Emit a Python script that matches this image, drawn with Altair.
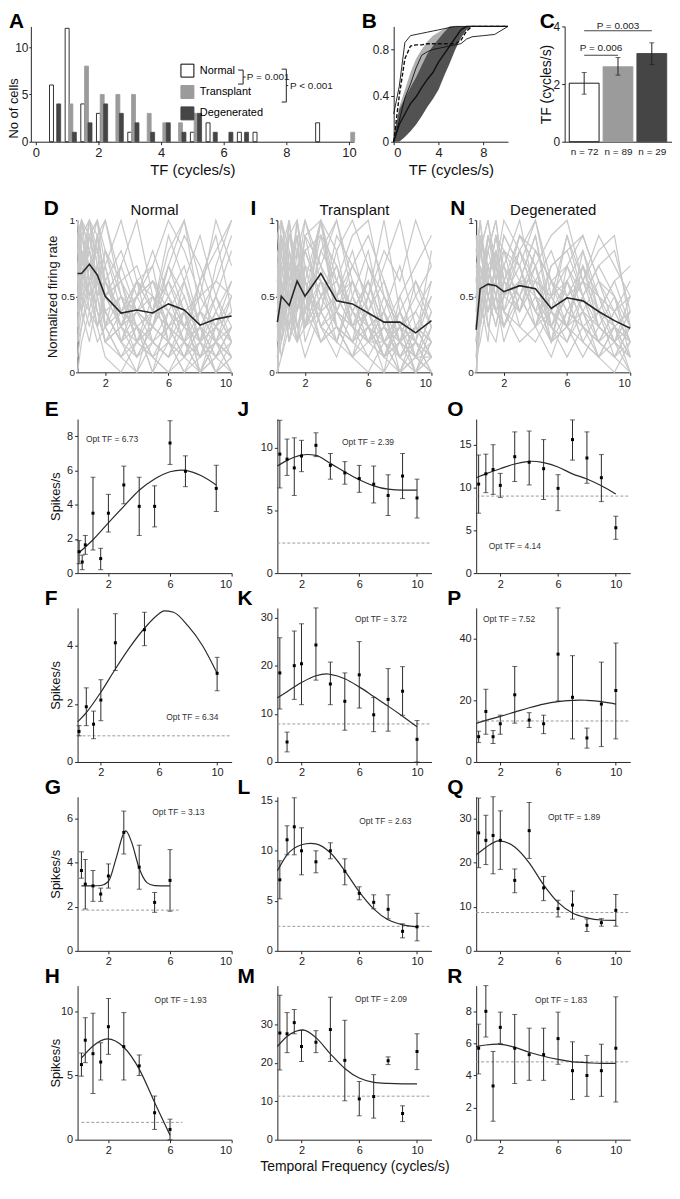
import altair as alt
import pandas as pd

FONT = "Liberation Sans"
INK = "#262626"
GREY_LINE = "#c8c8c8"

# ---------------- Panel A: histogram of optimal TF ----------------
A_groups = ["Normal", "Transplant", "Degenerated"]
A_bins = [0.5, 1, 1.5, 2, 2.5, 3, 3.5, 4, 4.5, 5, 5.5, 6, 6.5, 7, 7.5, 8, 8.5, 9, 9.5, 10]
A_normal = [6, 12, 4, 3, 0, 1, 0, 0, 0, 1, 2, 0, 1, 1, 0, 0, 0, 2, 0, 0]
A_transplant = [0, 4, 8, 5, 5, 5, 3, 2, 2, 3, 0, 0, 0, 0, 0, 0, 0, 0, 0, 1]
A_degenerated = [4, 1, 2, 4, 3, 2, 1, 2, 1, 3, 1, 1, 1, 0, 0, 0, 0, 0, 0, 0]
A_fill = ["white", "#9b9b9b", "#454545"]
A_stroke = ["black", "#9b9b9b", "#454545"]

# ---------------- Panel B: cumulative distributions ----------------
B_x = [0, 0.5, 1, 1.5, 2, 2.5, 3, 3.5, 4, 4.5, 5, 5.5, 6, 6.5, 7, 8, 9, 10.2]
B_norm_up = [0.24, 0.48, 0.86, 0.92, 0.93, 0.94, 0.95, 0.96, 0.97, 0.98, 0.99, 1.0, 1.0, 1.0, 1.0, 1.0, 1.0, 1.0]
B_norm_lo = [0.0, 0.18, 0.38, 0.5, 0.64, 0.75, 0.78, 0.8, 0.81, 0.82, 0.83, 0.84, 0.85, 0.89, 0.91, 0.92, 0.93, 1.0]
B_norm_mean = [0.0, 0.4, 0.72, 0.83, 0.84, 0.84, 0.85, 0.85, 0.85, 0.85, 0.85, 0.85, 0.88, 0.96, 1.0, 1.0, 1.0, 1.0]
B_tr_up = [0.05, 0.3, 0.45, 0.6, 0.72, 0.8, 0.87, 0.92, 0.95, 0.98, 1.0, 1.0, 1.0, 1.0, 1.0, 1.0, 1.0, 1.0]
B_tr_lo = [0.0, 0.05, 0.15, 0.25, 0.35, 0.45, 0.55, 0.63, 0.72, 0.8, 0.88, 0.93, 0.97, 1.0, 1.0, 1.0, 1.0, 1.0]
B_dg_up = [0.04, 0.28, 0.38, 0.47, 0.56, 0.66, 0.76, 0.83, 0.89, 0.95, 1.0, 1.0, 1.0, 1.0, 1.0, 1.0, 1.0, 1.0]
B_dg_lo = [0.0, 0.0, 0.04, 0.09, 0.15, 0.22, 0.3, 0.37, 0.45, 0.57, 0.68, 0.8, 0.9, 0.97, 1.0, 1.0, 1.0, 1.0]
B_dg_mean = [0.0, 0.15, 0.24, 0.33, 0.39, 0.47, 0.54, 0.6, 0.69, 0.76, 0.83, 0.9, 0.97, 1.0, 1.0, 1.0, 1.0, 1.0]

# ---------------- Panel C: mean optimal TF ----------------
C_idx = [0, 1, 2]
C_labels = ["n = 72", "n = 89", "n = 29"]
C_mean = [2.03, 2.6, 3.06]
C_lo = [1.65, 2.31, 2.68]
C_hi = [2.4, 2.92, 3.43]
C_p_text = ["P = 0.003", "P = 0.006"]

# ---------------- Panels D / I / N: normalized tuning ----------------
TF = [0.25, 0.5, 1, 1.5, 2, 3, 4, 5, 6, 7, 8, 9, 10]
D_lines = [
    [0.9, 1.0, 0.8, 0.6, 0.4, 0.2, 0.1, 0.3, 0.2, 0.0, 0.1, 0.2, 0.1],
    [0.5, 0.7, 1.0, 0.9, 0.6, 0.3, 0.4, 0.2, 0.1, 0.2, 0.0, 0.1, 0.3],
    [1.0, 0.8, 0.7, 0.5, 0.3, 0.5, 0.2, 0.4, 0.6, 0.3, 0.2, 0.0, 0.1],
    [0.3, 0.6, 0.9, 1.0, 0.8, 0.4, 0.3, 0.1, 0.2, 0.4, 0.1, 0.2, 0.0],
    [0.7, 0.9, 1.0, 0.7, 0.5, 0.6, 0.7, 0.4, 0.3, 0.1, 0.0, 0.2, 0.4],
    [0.2, 0.3, 0.5, 0.6, 0.7, 1.0, 0.6, 0.5, 0.3, 0.2, 0.4, 0.3, 0.2],
    [0.0, 0.2, 0.4, 0.3, 0.5, 0.4, 0.6, 0.7, 1.0, 0.8, 0.5, 0.6, 0.9],
    [0.8, 0.6, 0.9, 1.0, 0.7, 0.3, 0.2, 0.3, 0.5, 0.7, 0.3, 0.1, 0.0],
    [0.6, 1.0, 0.6, 0.4, 0.2, 0.1, 0.3, 0.0, 0.2, 0.1, 0.3, 0.5, 0.2],
    [0.4, 0.5, 0.3, 0.6, 0.4, 0.2, 0.5, 0.3, 0.7, 1.0, 0.6, 0.2, 0.1],
    [0.9, 0.7, 0.8, 0.5, 0.6, 0.4, 0.5, 0.6, 0.4, 0.2, 0.1, 0.3, 0.5],
    [0.1, 0.3, 0.6, 0.4, 0.2, 0.3, 0.1, 0.2, 0.4, 0.3, 0.5, 1.0, 0.7],
    [1.0, 0.9, 0.6, 0.7, 0.4, 0.2, 0.3, 0.1, 0.0, 0.2, 0.3, 0.1, 0.2],
    [0.5, 0.4, 0.7, 0.8, 1.0, 0.5, 0.4, 0.3, 0.6, 0.4, 0.2, 0.1, 0.3],
    [0.7, 0.5, 0.4, 0.2, 0.3, 0.7, 1.0, 0.5, 0.3, 0.5, 0.2, 0.4, 0.6],
    [0.3, 0.8, 0.5, 0.9, 0.3, 0.1, 0.2, 0.5, 0.4, 0.6, 0.9, 0.5, 0.3],
    [0.8, 1.0, 0.9, 0.6, 0.5, 0.3, 0.6, 0.4, 0.7, 0.5, 0.2, 0.0, 0.1],
    [0.2, 0.4, 0.2, 0.5, 0.8, 0.6, 0.3, 0.2, 0.1, 0.3, 0.6, 0.8, 1.0],
    [0.6, 0.7, 0.9, 0.8, 0.6, 0.4, 0.3, 0.4, 0.9, 0.6, 0.2, 0.3, 0.4],
    [0.9, 0.6, 0.5, 0.3, 0.1, 0.0, 0.2, 0.1, 0.3, 0.2, 0.1, 0.4, 0.2],
    [0.4, 0.9, 1.0, 0.7, 0.4, 0.5, 0.2, 0.3, 0.2, 0.1, 0.4, 0.2, 0.5],
    [0.7, 0.4, 0.6, 0.9, 0.6, 0.3, 0.5, 0.8, 0.5, 0.3, 0.1, 0.2, 0.0],
    [0.6, 0.8, 0.7, 0.9, 1.0, 0.6, 0.2, 0.1, 0.0, 0.1, 0.3, 0.2, 0.1],
    [1.0, 0.7, 0.5, 0.6, 0.3, 0.4, 0.6, 0.2, 0.3, 0.4, 0.0, 0.3, 0.6],
    [0.4, 0.6, 0.8, 0.5, 0.7, 0.2, 0.0, 0.4, 0.6, 0.9, 0.7, 0.4, 0.2],
    [0.8, 0.9, 0.7, 0.4, 0.2, 0.3, 0.5, 0.6, 0.3, 0.1, 0.2, 0.7, 1.0],
    [0.5, 1.0, 0.8, 0.6, 0.5, 0.7, 0.4, 0.3, 0.5, 0.2, 0.0, 0.1, 0.3],
    [0.9, 0.5, 1.0, 0.8, 0.3, 0.1, 0.0, 0.2, 0.1, 0.4, 0.5, 0.3, 0.1],
    [0.3, 0.5, 0.6, 0.3, 0.6, 0.8, 0.5, 0.7, 0.2, 0.0, 0.2, 0.5, 0.8],
    [0.7, 0.8, 0.4, 0.7, 0.5, 0.3, 0.6, 0.4, 0.8, 1.0, 0.4, 0.2, 0.3],
    [0.6, 0.4, 0.9, 0.6, 0.8, 0.5, 0.3, 0.0, 0.4, 0.2, 0.6, 0.9, 0.4],
    [1.0, 0.8, 0.6, 0.3, 0.4, 0.2, 0.4, 0.5, 0.2, 0.6, 0.3, 0.0, 0.2],
    [0.2, 0.6, 0.8, 1.0, 0.5, 0.6, 0.4, 0.6, 0.5, 0.3, 0.4, 0.6, 0.5],
    [0.8, 0.7, 1.0, 0.5, 0.2, 0.4, 0.1, 0.3, 0.7, 0.4, 0.0, 0.2, 0.1],
]
D_mean = [0.65, 0.65, 0.71, 0.64, 0.50, 0.39, 0.41, 0.39, 0.45, 0.41, 0.31, 0.35, 0.37]

I_lines = [
    [0.2, 0.6, 1.0, 0.5, 0.3, 0.6, 0.2, 0.1, 0.3, 0.1, 0.0, 0.1, 0.2],
    [0.0, 0.4, 0.3, 0.8, 0.6, 1.0, 0.5, 0.3, 0.2, 0.4, 0.1, 0.0, 0.3],
    [0.5, 1.0, 0.6, 0.4, 0.7, 0.3, 0.4, 0.6, 0.3, 0.2, 0.3, 0.1, 0.0],
    [0.1, 0.2, 0.5, 0.9, 0.4, 0.8, 1.0, 0.6, 0.3, 0.1, 0.2, 0.1, 0.4],
    [0.7, 0.5, 0.2, 0.6, 1.0, 0.7, 0.3, 0.2, 0.4, 0.6, 0.3, 0.2, 0.1],
    [0.3, 0.8, 0.4, 1.0, 0.5, 0.4, 0.2, 0.5, 0.8, 0.3, 0.1, 0.3, 0.2],
    [0.0, 0.1, 0.3, 0.2, 0.4, 0.6, 0.5, 0.7, 0.5, 0.8, 0.6, 1.0, 0.7],
    [0.4, 0.7, 0.9, 0.6, 0.3, 1.0, 0.6, 0.4, 0.2, 0.1, 0.3, 0.0, 0.1],
    [0.6, 0.3, 0.5, 0.2, 0.6, 0.4, 0.8, 1.0, 0.7, 0.4, 0.2, 0.3, 0.5],
    [0.2, 0.9, 0.6, 0.7, 0.2, 0.5, 0.3, 0.1, 0.0, 0.2, 0.4, 0.2, 0.6],
    [0.8, 0.6, 0.3, 0.5, 0.8, 0.9, 0.4, 0.3, 0.6, 0.2, 0.1, 0.2, 0.0],
    [0.1, 0.4, 0.8, 0.3, 0.5, 0.2, 0.4, 0.3, 0.5, 1.0, 0.4, 0.1, 0.3],
    [0.3, 0.5, 0.2, 0.4, 0.9, 0.7, 1.0, 0.5, 0.2, 0.3, 0.2, 0.4, 0.2],
    [0.5, 0.2, 0.6, 1.0, 0.7, 0.3, 0.1, 0.4, 0.3, 0.0, 0.5, 0.7, 0.9],
    [0.0, 0.7, 0.4, 0.2, 0.3, 0.8, 0.6, 0.9, 1.0, 0.5, 0.2, 0.1, 0.0],
    [0.9, 1.0, 0.7, 0.5, 0.4, 0.2, 0.3, 0.2, 0.1, 0.3, 0.2, 0.0, 0.2],
    [0.2, 0.3, 1.0, 0.6, 0.8, 0.5, 0.7, 0.4, 0.6, 0.3, 0.1, 0.3, 0.1],
    [0.6, 0.9, 0.5, 0.3, 0.1, 0.4, 0.2, 0.6, 0.4, 0.7, 1.0, 0.5, 0.3],
    [0.3, 0.1, 0.4, 0.7, 0.5, 1.0, 0.8, 0.3, 0.2, 0.2, 0.0, 0.1, 0.4],
    [0.4, 0.6, 0.2, 0.5, 0.3, 0.6, 0.4, 0.2, 0.7, 0.5, 0.3, 0.2, 0.8],
    [0.1, 0.5, 0.7, 0.4, 0.6, 0.3, 0.5, 0.8, 0.4, 0.1, 0.2, 0.6, 0.3],
    [0.7, 0.4, 0.9, 0.8, 1.0, 0.6, 0.3, 0.2, 0.3, 0.4, 0.1, 0.0, 0.1],
    [0.9, 0.7, 0.6, 0.8, 0.3, 0.5, 0.7, 0.3, 0.1, 0.0, 0.2, 0.3, 0.1],
    [0.1, 0.3, 0.7, 0.5, 0.9, 1.0, 0.4, 0.2, 0.4, 0.1, 0.3, 0.0, 0.2],
    [0.6, 0.8, 1.0, 0.4, 0.6, 0.3, 0.2, 0.5, 0.3, 0.4, 0.0, 0.2, 0.5],
    [0.0, 0.6, 0.5, 0.3, 0.4, 0.9, 0.7, 0.4, 0.6, 0.3, 0.5, 0.2, 0.1],
    [0.4, 0.2, 0.8, 0.6, 0.3, 0.4, 0.9, 0.7, 0.5, 0.2, 0.4, 0.1, 0.0],
    [0.7, 0.9, 0.4, 0.7, 0.8, 0.5, 0.6, 0.3, 0.2, 0.5, 0.3, 0.4, 0.6],
    [0.2, 0.5, 0.9, 1.0, 0.6, 0.2, 0.3, 0.1, 0.5, 0.2, 0.0, 0.3, 0.2],
    [0.5, 0.4, 0.3, 0.6, 0.5, 0.7, 0.5, 0.6, 0.3, 0.1, 0.4, 0.6, 0.4],
    [0.3, 0.9, 0.6, 0.2, 0.7, 0.6, 0.4, 0.7, 0.9, 0.6, 0.2, 0.1, 0.1],
    [0.8, 0.5, 0.7, 0.9, 0.4, 1.0, 0.3, 0.1, 0.2, 0.3, 0.1, 0.2, 0.0],
    [0.1, 0.2, 0.4, 0.5, 0.3, 0.5, 0.6, 0.4, 0.2, 0.4, 0.7, 0.3, 0.1],
    [0.6, 1.0, 0.8, 0.5, 0.9, 0.4, 0.5, 0.3, 0.4, 0.2, 0.3, 0.5, 0.7],
]
I_mean = [0.33, 0.50, 0.44, 0.60, 0.50, 0.65, 0.47, 0.45, 0.39, 0.33, 0.33, 0.26, 0.34]

N_lines = [
    [0.3, 0.8, 1.0, 0.7, 0.5, 0.6, 0.4, 0.2, 0.3, 0.5, 0.2, 0.1, 0.0],
    [0.1, 0.5, 0.4, 0.6, 0.9, 0.7, 1.0, 0.5, 0.6, 0.3, 0.4, 0.2, 0.1],
    [0.6, 0.9, 0.7, 0.5, 0.4, 0.8, 0.6, 0.3, 0.5, 0.7, 0.3, 0.2, 0.3],
    [0.0, 0.3, 0.6, 0.9, 0.7, 1.0, 0.5, 0.4, 0.3, 0.2, 0.1, 0.3, 0.2],
    [0.5, 0.7, 0.5, 0.3, 0.6, 0.4, 0.7, 0.9, 1.0, 0.6, 0.4, 0.3, 0.1],
    [0.2, 0.4, 0.8, 1.0, 0.6, 0.5, 0.3, 0.1, 0.4, 0.6, 0.9, 0.7, 0.5],
    [0.8, 1.0, 0.6, 0.4, 0.3, 0.5, 0.8, 0.6, 0.4, 0.3, 0.2, 0.1, 0.3],
    [0.4, 0.6, 0.3, 0.5, 0.8, 0.6, 0.9, 0.4, 0.2, 0.5, 0.7, 0.5, 0.2],
    [0.1, 0.2, 0.5, 0.4, 0.3, 0.6, 0.4, 0.7, 0.8, 0.9, 0.6, 0.3, 0.0],
    [0.7, 0.5, 0.9, 0.6, 0.4, 0.2, 0.3, 0.5, 0.7, 0.4, 0.1, 0.2, 0.4],
    [0.3, 0.6, 0.4, 0.7, 1.0, 0.8, 0.5, 0.3, 0.6, 0.3, 0.2, 0.4, 0.6],
    [0.5, 0.3, 0.6, 0.8, 0.5, 0.9, 0.7, 0.2, 0.3, 0.8, 0.5, 0.3, 0.2],
    [0.2, 0.7, 0.5, 0.3, 0.6, 0.4, 0.6, 0.8, 0.5, 0.2, 0.4, 0.6, 0.7],
    [0.6, 0.4, 0.7, 0.5, 0.2, 0.5, 0.3, 0.6, 0.4, 0.6, 0.8, 0.9, 0.3],
    [0.0, 0.5, 0.8, 0.6, 0.7, 0.3, 0.2, 0.4, 0.9, 0.5, 0.3, 0.2, 0.4],
    [0.9, 0.8, 0.6, 0.9, 0.5, 0.7, 0.4, 0.3, 0.2, 0.4, 0.3, 0.5, 0.1],
    [0.4, 0.9, 0.3, 0.2, 0.5, 0.8, 1.0, 0.6, 0.5, 0.2, 0.1, 0.0, 0.2],
    [0.2, 0.6, 0.7, 0.5, 0.3, 0.6, 0.5, 0.2, 0.7, 0.9, 0.6, 0.4, 0.5],
    [0.5, 0.3, 0.9, 0.7, 0.8, 0.4, 0.6, 0.5, 0.3, 0.7, 0.5, 0.2, 0.1],
    [0.3, 0.5, 0.2, 0.8, 0.6, 0.9, 0.7, 0.3, 0.1, 0.3, 0.2, 0.4, 0.2],
    [0.8, 0.6, 0.8, 1.0, 0.6, 0.5, 0.7, 0.4, 0.3, 0.1, 0.3, 0.2, 0.0],
    [0.0, 0.4, 0.7, 0.4, 0.5, 0.9, 0.8, 0.6, 0.7, 0.5, 0.2, 0.3, 0.4],
    [0.6, 1.0, 0.5, 0.7, 0.4, 0.3, 0.5, 0.2, 0.6, 0.8, 0.4, 0.1, 0.2],
    [0.4, 0.3, 0.6, 0.9, 0.8, 0.7, 0.4, 0.5, 0.3, 0.4, 0.6, 0.5, 0.3],
    [0.7, 0.8, 1.0, 0.6, 0.3, 0.6, 0.9, 0.3, 0.5, 0.6, 0.3, 0.2, 0.5],
    [0.2, 0.7, 0.4, 0.5, 0.7, 0.5, 0.3, 0.7, 0.8, 0.5, 0.7, 0.8, 0.4],
    [0.5, 0.9, 0.6, 0.4, 0.6, 0.8, 0.5, 0.2, 0.4, 0.3, 0.1, 0.3, 0.1],
    [0.9, 0.4, 0.7, 0.8, 0.4, 0.6, 0.6, 0.5, 0.9, 0.6, 0.5, 0.4, 0.2],
    [0.1, 0.6, 0.9, 0.7, 0.5, 0.4, 0.8, 0.6, 0.3, 0.7, 0.4, 0.6, 0.3],
    [0.3, 0.8, 0.5, 0.6, 0.9, 0.7, 0.3, 0.4, 0.6, 0.4, 0.2, 0.1, 0.3],
]
N_mean = [0.28, 0.55, 0.58, 0.57, 0.53, 0.57, 0.55, 0.42, 0.49, 0.47, 0.40, 0.34, 0.29]

# ---------------- Example cells (E-H, J-M, O-R) ----------------
TF12 = [0.5, 1, 1.5, 2, 3, 4, 5, 6, 7, 8, 9, 10]

E_tf = [0.1, 0.3, 0.5, 1, 1.5, 2, 3, 4, 5, 6, 7, 9]
E_mean = [1.25, 0.65, 1.65, 3.5, 0.85, 3.5, 5.15, 3.9, 3.9, 7.6, 5.95, 4.95]
E_lo = [0.55, 0.2, 1.1, 1.35, 0.2, 2.4, 4.05, 2.2, 2.7, 6.35, 5.05, 3.6]
E_hi = [1.9, 1.05, 2.2, 5.6, 1.45, 4.6, 6.25, 5.6, 5.1, 8.9, 6.85, 6.3]
E_fit_x = [0.1, 1, 2, 3, 4, 5, 6, 6.73, 7, 8, 9]
E_fit_y = [1.2, 1.95, 2.94, 3.9, 4.84, 5.5, 5.92, 6.02, 6.0, 5.7, 5.15]

F_tf = [0.5, 1, 1.5, 2, 3, 5, 10]
F_mean = [1.05, 1.9, 1.3, 2.13, 4.1, 4.55, 3.05]
F_lo = [0.9, 1.25, 0.8, 1.42, 3.15, 4.0, 2.45]
F_hi = [1.25, 2.55, 1.75, 2.83, 5.1, 5.15, 3.6]
F_fit_x = [0.4, 1, 2, 3, 4, 5, 6, 6.34, 7, 8, 9, 10]
F_fit_y = [1.38, 1.7, 2.4, 3.2, 3.95, 4.6, 5.1, 5.2, 5.15, 4.68, 4.0, 3.05]

G_tf = [0.25, 0.5, 1, 1.5, 2, 3, 4, 5, 6]
G_mean = [3.65, 3.03, 2.95, 2.58, 3.4, 5.38, 3.8, 2.2, 3.2]
G_lo = [3.3, 1.9, 2.25, 2.25, 2.85, 4.4, 2.8, 1.75, 1.8]
G_hi = [4.5, 4.15, 3.65, 2.85, 3.95, 6.35, 4.8, 2.65, 4.6]
G_fit_x = [0.25, 1, 1.5, 2, 2.5, 3, 3.13, 3.5, 4, 4.5, 5, 6]
G_fit_y = [2.95, 2.95, 2.97, 3.15, 4.2, 5.35, 5.45, 4.95, 3.75, 3.1, 2.96, 2.95]

H_tf = [0.25, 0.5, 1, 1.5, 2, 3, 4, 5, 6]
H_mean = [5.85, 7.75, 6.7, 6.05, 8.8, 7.25, 5.75, 2.1, 0.8]
H_lo = [4.95, 6.0, 3.6, 4.65, 6.65, 4.65, 5.0, 0.8, 0.0]
H_hi = [6.75, 9.5, 9.85, 7.55, 11.0, 9.9, 6.6, 3.4, 1.6]
H_fit_x = [0.25, 1, 1.93, 3, 4, 5, 6]
H_fit_y = [6.35, 7.3, 7.85, 7.2, 5.5, 2.9, 0.35]

J_mean = [9.5, 9.1, 8.4, 9.35, 10.2, 8.6, 8.0, 7.55, 7.1, 6.2, 7.75, 6.0]
J_lo = [6.8, 7.8, 6.2, 8.1, 9.3, 7.5, 7.1, 6.45, 5.6, 4.6, 5.95, 4.4]
J_hi = [12.2, 10.7, 10.8, 10.6, 11.2, 9.55, 8.9, 8.6, 8.55, 7.85, 9.55, 7.5]
J_fit_x = [0.33, 1, 2, 2.39, 3, 4, 5, 6, 7, 8, 9, 10]
J_fit_y = [8.55, 9.0, 9.42, 9.47, 9.4, 8.76, 8.08, 7.45, 6.97, 6.7, 6.63, 6.63]

K_mean = [18.5, 4.15, 20.0, 20.4, 24.3, 16.2, 12.6, 18.1, 9.8, 13.0, 14.7, 4.7]
K_lo = [11.0, 2.1, 13.0, 11.9, 17.0, 11.9, 6.6, 11.2, 6.3, 6.4, 9.7, 0.0]
K_hi = [25.8, 6.2, 27.2, 28.7, 32.0, 20.75, 18.5, 25.0, 13.4, 19.4, 19.8, 8.6]
K_fit_x = [0.33, 1, 2, 3, 3.72, 4, 5, 6, 7, 8, 9, 10]
K_fit_y = [13.3, 14.6, 16.5, 17.9, 18.3, 18.2, 17.3, 15.6, 13.6, 11.6, 9.5, 7.3]

L_mean = [7.1, 11.1, 12.4, 10.0, 8.9, 10.0, 7.95, 5.75, 4.85, 4.15, 1.95, 2.4]
L_lo = [5.2, 9.6, 9.6, 7.6, 7.8, 9.2, 6.6, 5.1, 4.2, 3.2, 1.3, 1.0]
L_hi = [9.0, 12.5, 15.3, 12.3, 10.0, 10.8, 9.2, 6.4, 5.6, 5.6, 2.7, 3.75]
L_fit_x = [0.33, 1, 2, 2.63, 3, 4, 5, 6, 7, 8, 9, 10]
L_fit_y = [8.0, 9.6, 10.6, 10.75, 10.7, 9.8, 8.0, 5.9, 4.2, 3.1, 2.6, 2.4]

M_mean = [27.7, 27.5, 30.4, 24.2, 25.3, 28.6, 20.6, 10.6, 11.2, 20.5, 6.8, 22.9]
M_lo = [18.1, 22.6, 27.5, 20.3, 22.6, 20.3, 10.1, 6.2, 5.6, 19.5, 4.7, 18.2]
M_hi = [37.5, 33.0, 33.8, 28.4, 28.3, 37.0, 31.0, 15.1, 16.9, 21.5, 8.8, 27.5]
M_fit_x = [0.33, 1, 2.09, 3, 4, 5, 6, 7, 8, 9, 10]
M_fit_y = [24.2, 26.8, 28.5, 26.5, 22.3, 18.5, 16.0, 14.9, 14.6, 14.5, 14.5]

O_mean = [10.4, 11.6, 12.1, 10.25, 13.6, 12.95, 12.2, 9.9, 15.6, 13.45, 11.15, 5.3]
O_lo = [7.0, 9.4, 9.2, 8.85, 10.7, 10.3, 8.6, 7.3, 13.2, 10.5, 8.35, 3.95]
O_hi = [13.8, 13.9, 15.0, 11.65, 16.5, 16.6, 15.6, 11.5, 17.9, 16.5, 13.85, 6.65]
O_fit_x = [0.33, 1, 2, 3, 4, 4.14, 5, 6, 7, 8, 9, 10]
O_fit_y = [11.15, 11.6, 12.2, 12.75, 13.05, 13.07, 12.9, 12.4, 11.6, 11.0, 10.2, 9.23]

P_mean = [8.2, 16.4, 8.2, 12.4, 21.8, 13.6, 12.4, 35.0, 21.0, 7.8, 18.8, 23.2]
P_lo = [6.3, 9.0, 6.0, 9.0, 12.6, 11.2, 9.2, 19.8, 7.5, 4.5, 5.0, 7.5]
P_hi = [10.0, 23.6, 10.2, 15.2, 31.0, 16.0, 15.2, 50.0, 34.5, 11.0, 32.4, 38.6]
P_fit_x = [0.33, 1, 2, 3, 4, 5, 6, 7, 7.52, 8, 9, 10]
P_fit_y = [12.5, 13.5, 14.8, 16.2, 17.6, 18.8, 19.6, 20.0, 20.1, 20.0, 19.6, 18.8]

Q_mean = [26.8, 25.1, 26.2, 25.1, 16.0, 27.3, 14.3, 9.6, 10.4, 5.8, 6.4, 9.2]
Q_lo = [18.9, 19.6, 17.5, 18.5, 13.2, 21.0, 11.4, 7.7, 7.2, 4.4, 5.6, 5.6]
Q_hi = [34.7, 30.8, 35.0, 31.8, 18.6, 33.7, 16.9, 11.5, 13.6, 7.25, 7.3, 12.8]
Q_fit_x = [0.33, 1, 1.89, 3, 4, 5, 6, 7, 8, 9, 10]
Q_fit_y = [21.8, 23.5, 25.0, 23.6, 20.0, 15.0, 11.0, 8.6, 7.5, 7.0, 6.9]

R_mean = [5.7, 8.0, 3.35, 7.0, 5.7, 5.3, 5.3, 6.3, 4.3, 4.0, 4.3, 5.7]
R_lo = [4.1, 6.4, 1.15, 6.0, 3.5, 3.7, 3.7, 4.7, 2.5, 2.7, 2.7, 2.35]
R_hi = [7.2, 9.6, 5.5, 7.95, 7.8, 6.95, 6.95, 7.95, 6.1, 5.25, 5.95, 8.9]
R_fit_x = [0.33, 1, 1.83, 3, 4, 5, 6, 7, 8, 9, 10]
R_fit_y = [5.8, 5.9, 5.95, 5.75, 5.45, 5.2, 5.0, 4.85, 4.8, 4.75, 4.75]


# ---------------- helpers ----------------
def spacer(w, h):
    return alt.Chart(pd.DataFrame({"v": [0]})).mark_point(size=0, opacity=0).encode(
        x=alt.value(0), y=alt.value(0)).properties(width=w, height=h)


def letter(t, dx, dy):
    return alt.Chart(pd.DataFrame({"t": [t]})).mark_text(
        align="left", baseline="alphabetic", fontSize=21, fontWeight="bold",
        font=FONT, color="black").encode(x=alt.value(dx), y=alt.value(dy), text="t:N")


def heading(t, cx, dy):
    return alt.Chart(pd.DataFrame({"t": [t]})).mark_text(
        align="center", baseline="alphabetic", fontSize=15, font=FONT,
        color="#111").encode(x=alt.value(cx), y=alt.value(dy), text="t:N")


# ---------------- A ----------------
def panel_A():
    df = pd.DataFrame({
        "tf": A_bins * 3,
        "group": [g for g in A_groups for _ in A_bins],
        "count": A_normal + A_transplant + A_degenerated,
    })
    df = df[df["count"] > 0]
    xs = alt.Scale(domain=[0, 10], nice=False, zero=False)
    ys = alt.Scale(domain=[0, 12.2], nice=False)
    xax = alt.Axis(values=[0, 2, 4, 6, 8, 10], title="TF (cycles/s)", labelFontSize=13,
                   titleFontSize=15, titlePadding=3)
    yax = alt.Axis(values=[0, 5, 10], title="No of cells", labelFontSize=12, titleFontSize=13,
                   tickSize=2, labelPadding=1, minExtent=8, maxExtent=8, titlePadding=2,
                   titleY=82)
    leg = alt.Legend(orient="none", legendX=150, legendY=37, title=None, symbolType="square",
                     symbolSize=170, symbolStrokeWidth=1, labelFontSize=11, labelFont=FONT,
                     rowPadding=2.5, padding=0, labelOffset=5)
    bars = alt.Chart(df).transform_calculate(
        xpos="datum.tf + (datum.group == 'Transplant' ? 0.12 : (datum.group == 'Degenerated' ? 0.23 : 0))"
    ).mark_bar(size=4, strokeWidth=0.8).encode(
        x=alt.X("xpos:Q", scale=xs, axis=xax),
        y=alt.Y("count:Q", scale=ys, axis=yax),
        fill=alt.Fill("group:N", scale=alt.Scale(domain=A_groups, range=A_fill), legend=leg),
        stroke=alt.Stroke("group:N", scale=alt.Scale(domain=A_groups, range=A_stroke), legend=leg),
    )
    br = pd.DataFrame({
        "x0": [6.46, 6.46, 6.62, 6.62, 7.85, 7.85, 8.0, 8.0],
        "x1": [6.62, 6.62, 6.62, 6.70, 8.0, 8.0, 8.0, 8.06],
        "y0": [7.58, 6.10, 6.10, 6.84, 7.68, 4.20, 4.20, 5.94],
        "y1": [7.58, 6.10, 7.58, 6.84, 7.68, 4.20, 7.68, 5.94],
    })
    brackets = alt.Chart(br).mark_rule(color="#222", strokeWidth=1).encode(
        x=alt.X("x0:Q", scale=xs, axis=xax), x2="x1",
        y=alt.Y("y0:Q", scale=ys, axis=yax), y2="y1")
    pt = pd.DataFrame({"x": [6.74, 8.12], "y": [6.84, 5.94], "t": ["P = 0.001", "P < 0.001"]})
    ptxt = alt.Chart(pt).mark_text(align="left", baseline="middle", fontSize=10, font=FONT,
                                   color="#222").encode(
        x=alt.X("x:Q", scale=xs, axis=xax), y=alt.Y("y:Q", scale=ys, axis=yax), text="t:N")
    return alt.layer(bars, brackets, ptxt, letter("A", -22, 2)).properties(width=325, height=116)


# ---------------- B ----------------
def panel_B():
    df = pd.DataFrame({"x": B_x, "nu": B_norm_up, "nl": B_norm_lo, "nm": B_norm_mean,
                       "tu": B_tr_up, "tl": B_tr_lo, "du": B_dg_up, "dl": B_dg_lo, "dm": B_dg_mean})
    xs = alt.Scale(domain=[0, 10.2], nice=False, zero=False)
    ys = alt.Scale(domain=[0, 1], nice=False)
    xax = alt.Axis(values=[0, 4, 8], title="TF (cycles/s)", labelFontSize=13, titleFontSize=15,
                   titlePadding=3)
    yax = alt.Axis(values=[0, 0.4, 0.8], format="~g", title=None, labelFontSize=12)
    X = alt.X("x:Q", scale=xs, axis=xax)
    base = alt.Chart(df)
    tr = base.mark_area(color="#b0b0b0").encode(x=X, y=alt.Y("tl:Q", scale=ys, axis=yax), y2="tu")
    dg = base.mark_area(color="#525252").encode(x=X, y=alt.Y("dl:Q", scale=ys, axis=yax), y2="du")
    nu = base.mark_line(color="#111", strokeWidth=0.9).encode(x=X, y=alt.Y("nu:Q", scale=ys, axis=yax))
    nl = base.mark_line(color="#111", strokeWidth=0.9).encode(x=X, y=alt.Y("nl:Q", scale=ys, axis=yax))
    nm = base.mark_line(color="#111", strokeWidth=1.4, strokeDash=[4, 2]).encode(
        x=X, y=alt.Y("nm:Q", scale=ys, axis=yax))
    dm = base.mark_line(color="#111", strokeWidth=1.4).encode(x=X, y=alt.Y("dm:Q", scale=ys, axis=yax))
    return alt.layer(tr, dg, nu, nl, nm, dm, letter("B", -32, 2)).properties(width=115, height=116)


# ---------------- C ----------------
def panel_C():
    df = pd.DataFrame({"i": C_idx, "m": C_mean, "lo": C_lo, "hi": C_hi, "lab": C_labels})
    xs = alt.Scale(domain=[-0.43, 2.45], nice=False, zero=False)
    ys = alt.Scale(domain=[0, 4], nice=False)
    lab_expr = "[" + ",".join("'" + s + "'" for s in C_labels) + "][datum.value]"
    xax = alt.Axis(values=C_idx, labelExpr=lab_expr, ticks=False, title=None, labelFontSize=10,
                   labelPadding=5)
    yax = alt.Axis(values=[0, 2, 4], title="TF (cycles/s)", labelFontSize=12, titleFontSize=14,
                   minExtent=9, maxExtent=9, titlePadding=2)
    X = alt.X("i:Q", scale=xs, axis=xax)
    bars = alt.Chart(df).mark_bar(size=30, strokeWidth=0.9).encode(
        x=X, y=alt.Y("m:Q", scale=ys, axis=yax),
        fill=alt.Fill("lab:N", scale=alt.Scale(domain=C_labels, range=A_fill), legend=None),
        stroke=alt.Stroke("lab:N", scale=alt.Scale(domain=C_labels, range=A_stroke), legend=None))
    err = alt.Chart(df).mark_rule(color="#222", strokeWidth=1).encode(
        x=X, y=alt.Y("lo:Q", scale=ys, axis=yax), y2="hi")
    cap1 = alt.Chart(df).mark_tick(orient="horizontal", size=5, thickness=1, color="#222").encode(
        x=X, y=alt.Y("lo:Q", scale=ys, axis=yax))
    cap2 = alt.Chart(df).mark_tick(orient="horizontal", size=5, thickness=1, color="#222").encode(
        x=X, y=alt.Y("hi:Q", scale=ys, axis=yax))
    pl = pd.DataFrame({"x0": [0, 0], "x1": [2, 1], "y": [3.85, 3.0]})
    plines = alt.Chart(pl).mark_rule(color="#444", strokeWidth=1.2).encode(
        x=alt.X("x0:Q", scale=xs, axis=xax), x2="x1", y=alt.Y("y:Q", scale=ys, axis=yax))
    ptd = pd.DataFrame({"x": [1, 0.5], "y": [4.02, 3.24], "t": C_p_text})
    ptxt = alt.Chart(ptd).mark_text(baseline="middle", fontSize=10, font=FONT, color="#222").encode(
        x=alt.X("x:Q", scale=xs, axis=xax), y=alt.Y("y:Q", scale=ys, axis=yax), text="t:N")
    return alt.layer(bars, err, cap1, cap2, plines, ptxt, letter("C", -25, 2)).properties(
        width=108, height=116)


# ---------------- D / I / N ----------------
def spaghetti(lt, ldx, name, lines, mean, ytitle=None):
    recs = [{"cell": i, "tf": t, "r": v} for i, ln in enumerate(lines) for t, v in zip(TF, ln)]
    df = pd.DataFrame(recs)
    mdf = pd.DataFrame({"tf": TF, "r": mean})
    xs = alt.Scale(domain=[0.25, 10], nice=False, zero=False)
    ys = alt.Scale(domain=[0, 1], nice=False)
    xax = alt.Axis(values=[2, 6, 10], title=None, labelFontSize=11)
    yax = alt.Axis(values=[0, 0.5, 1], format="~g", title=ytitle, labelFontSize=10, tickSize=2,
                   labelPadding=1, minExtent=17, maxExtent=17, titlePadding=1, titleFontSize=13)
    X = alt.X("tf:Q", scale=xs, axis=xax)
    Y = alt.Y("r:Q", scale=ys, axis=yax)
    grey = alt.Chart(df).mark_line(color=GREY_LINE, strokeWidth=1.2).encode(x=X, y=Y, detail="cell:N")
    m = alt.Chart(mdf).mark_line(color=INK, strokeWidth=1.6).encode(x=X, y=Y)
    return alt.layer(grey, m, letter(lt, ldx, -5), heading(name, 77.5, -5)).properties(
        width=155, height=153)


# ---------------- tuning panels ----------------
def tuning(lt, ldx, tf, mean, lo, hi, fx, fy, base, bx, opt, opos, xdom, ydom, yvals,
           ytitle=None, xtitle=None):
    xs = alt.Scale(domain=xdom, nice=False, zero=False)
    ys = alt.Scale(domain=ydom, nice=False, zero=False)
    xax = alt.Axis(values=[2, 6, 10], title=xtitle, labelFontSize=11, titleFontSize=14, titlePadding=4)
    yax = alt.Axis(values=yvals, title=ytitle, labelFontSize=11, titleFontSize=13,
                   minExtent=12, maxExtent=12, titlePadding=3)

    def X(f):
        return alt.X(f, type="quantitative", scale=xs, axis=xax)

    def Y(f):
        return alt.Y(f, type="quantitative", scale=ys, axis=yax)

    pts = pd.DataFrame({"tf": tf, "m": mean, "lo": lo, "hi": hi})
    fit = pd.DataFrame({"tf": fx, "r": fy})
    layers = []
    if base is not None:
        bdf = pd.DataFrame({"x0": [bx[0]], "x1": [bx[1]], "y": [base]})
        layers.append(alt.Chart(bdf).mark_rule(color="#9a9a9a", strokeWidth=1, strokeDash=[3, 2]).encode(
            x=X("x0"), x2="x1", y=Y("y")))
    layers.append(alt.Chart(pts).mark_rule(color="#2a2a2a", strokeWidth=1).encode(
        x=X("tf"), y=Y("lo"), y2="hi"))
    layers.append(alt.Chart(pts).mark_tick(orient="horizontal", size=5, thickness=1, color="#2a2a2a").encode(
        x=X("tf"), y=Y("lo")))
    layers.append(alt.Chart(pts).mark_tick(orient="horizontal", size=5, thickness=1, color="#2a2a2a").encode(
        x=X("tf"), y=Y("hi")))
    layers.append(alt.Chart(fit).mark_line(color="#2a2a2a", strokeWidth=1.2, interpolate="monotone").encode(
        x=X("tf"), y=Y("r")))
    layers.append(alt.Chart(pts).mark_square(size=9, color="black", opacity=1).encode(
        x=X("tf"), y=Y("m")))
    odf = pd.DataFrame({"x": [opos[0]], "y": [opos[1]], "t": [opt]})
    layers.append(alt.Chart(odf).mark_text(align="left", baseline="middle", fontSize=8.5, font=FONT,
                                           color="#333").encode(x=X("x"), y=Y("y"), text="t:N"))
    layers.append(letter(lt, ldx, -3))
    return alt.layer(*layers).properties(width=155, height=155)


C1, C2, C3 = -33, -40, -29
XD2 = [0.33, 11]

pE = tuning("E", C1, E_tf, E_mean, E_lo, E_hi, E_fit_x, E_fit_y, None, None, "Opt TF = 6.73",
            (0.55, 7.85), [0, 10], [0, 9], [0, 2, 4, 6, 8], ytitle="Spikes/s")
pF = tuning("F", C1, F_tf, F_mean, F_lo, F_hi, F_fit_x, F_fit_y, 0.9, (0.4, 11), "Opt TF = 6.34",
            (6.5, 1.55), [0.4, 11], [0, 5.3], [0, 2, 4], ytitle="Spikes/s")
pG = tuning("G", C1, G_tf, G_mean, G_lo, G_hi, G_fit_x, G_fit_y, 1.85, (0.25, 6.65), "Opt TF = 3.13",
            (4.85, 6.3), [0, 10], [0, 7], [0, 2, 4, 6], ytitle="Spikes/s")
pH = tuning("H", C1, H_tf, H_mean, H_lo, H_hi, H_fit_x, H_fit_y, 1.35, (0.25, 6.8), "Opt TF = 1.93",
            (5.0, 10.85), [0, 10], [0, 12], [0, 5, 10], ytitle="Spikes/s")

pJ = tuning("J", C2, TF12, J_mean, J_lo, J_hi, J_fit_x, J_fit_y, 2.4, XD2, "Opt TF = 2.39",
            (4.8, 10.5), XD2, [0, 12.3], [0, 5, 10])
pK = tuning("K", C2, TF12, K_mean, K_lo, K_hi, K_fit_x, K_fit_y, 7.9, XD2, "Opt TF = 3.72",
            (5.7, 29.6), XD2, [0, 32], [0, 10, 20, 30])
pL = tuning("L", C2, TF12, L_mean, L_lo, L_hi, L_fit_x, L_fit_y, 2.45, XD2, "Opt TF = 2.63",
            (6.0, 13.0), XD2, [0, 15.4], [0, 5, 10, 15])
pM = tuning("M", C2, TF12, M_mean, M_lo, M_hi, M_fit_x, M_fit_y, 11.3, XD2, "Opt TF = 2.09",
            (5.7, 36.5), XD2, [0, 40], [0, 10, 20, 30], xtitle="Temporal Frequency (cycles/s)")

pO = tuning("O", C3, TF12, O_mean, O_lo, O_hi, O_fit_x, O_fit_y, 9.0, XD2, "Opt TF = 4.14",
            (1.2, 3.2), XD2, [0, 18], [0, 5, 10, 15])
pP = tuning("P", C3, TF12, P_mean, P_lo, P_hi, P_fit_x, P_fit_y, 13.3, XD2, "Opt TF = 7.52",
            (0.8, 46.5), XD2, [0, 50], [0, 20, 40])
pQ = tuning("Q", C3, TF12, Q_mean, Q_lo, Q_hi, Q_fit_x, Q_fit_y, 8.7, XD2, "Opt TF = 1.89",
            (5.3, 30.4), XD2, [0, 35], [0, 10, 20, 30])
pR = tuning("R", C3, TF12, R_mean, R_lo, R_hi, R_fit_x, R_fit_y, 4.85, XD2, "Opt TF = 1.83",
            (4.4, 8.7), XD2, [0, 9.6], [0, 2, 4, 6, 8])

pD = spaghetti("D", -34, "Normal", D_lines, D_mean, ytitle="Normalized firing rate")
pI = spaghetti("I", -27, "Transplant", I_lines, I_mean)
pN = spaghetti("N", -26, "Degenerated", N_lines, N_mean)

row1 = alt.hconcat(
    spacer(22, 160), panel_A(), spacer(40, 1), panel_B(), spacer(57, 1), panel_C(),
    spacing=0, bounds="flush",
).resolve_scale(fill="independent", stroke="independent")

grid_items = [
    spacer(69, 200), pD, spacer(46, 1), pI, spacer(45, 1), pN,
    spacer(69, 190), pE, spacer(46, 1), pJ, spacer(45, 1), pO,
    spacer(69, 190), pF, spacer(46, 1), pK, spacer(45, 1), pP,
    spacer(69, 190), pG, spacer(46, 1), pL, spacer(45, 1), pQ,
    spacer(69, 155), pH, spacer(46, 1), pM, spacer(45, 1), pR,
]
grid = alt.concat(*grid_items, columns=6, spacing=0, bounds="flush")

chart = alt.vconcat(row1, grid, spacing=13).properties(padding=0).configure(
    font=FONT).configure_view(stroke=None).configure_axis(
    grid=False, domainColor=INK, domainWidth=1, tickColor=INK, tickSize=3, labelPadding=2,
    labelFont=FONT, titleFont=FONT, labelColor="#222", titleColor="#111",
    titleFontWeight="normal",
)

chart.save("out.html", embed_options={"renderer": "svg", "actions": False})
